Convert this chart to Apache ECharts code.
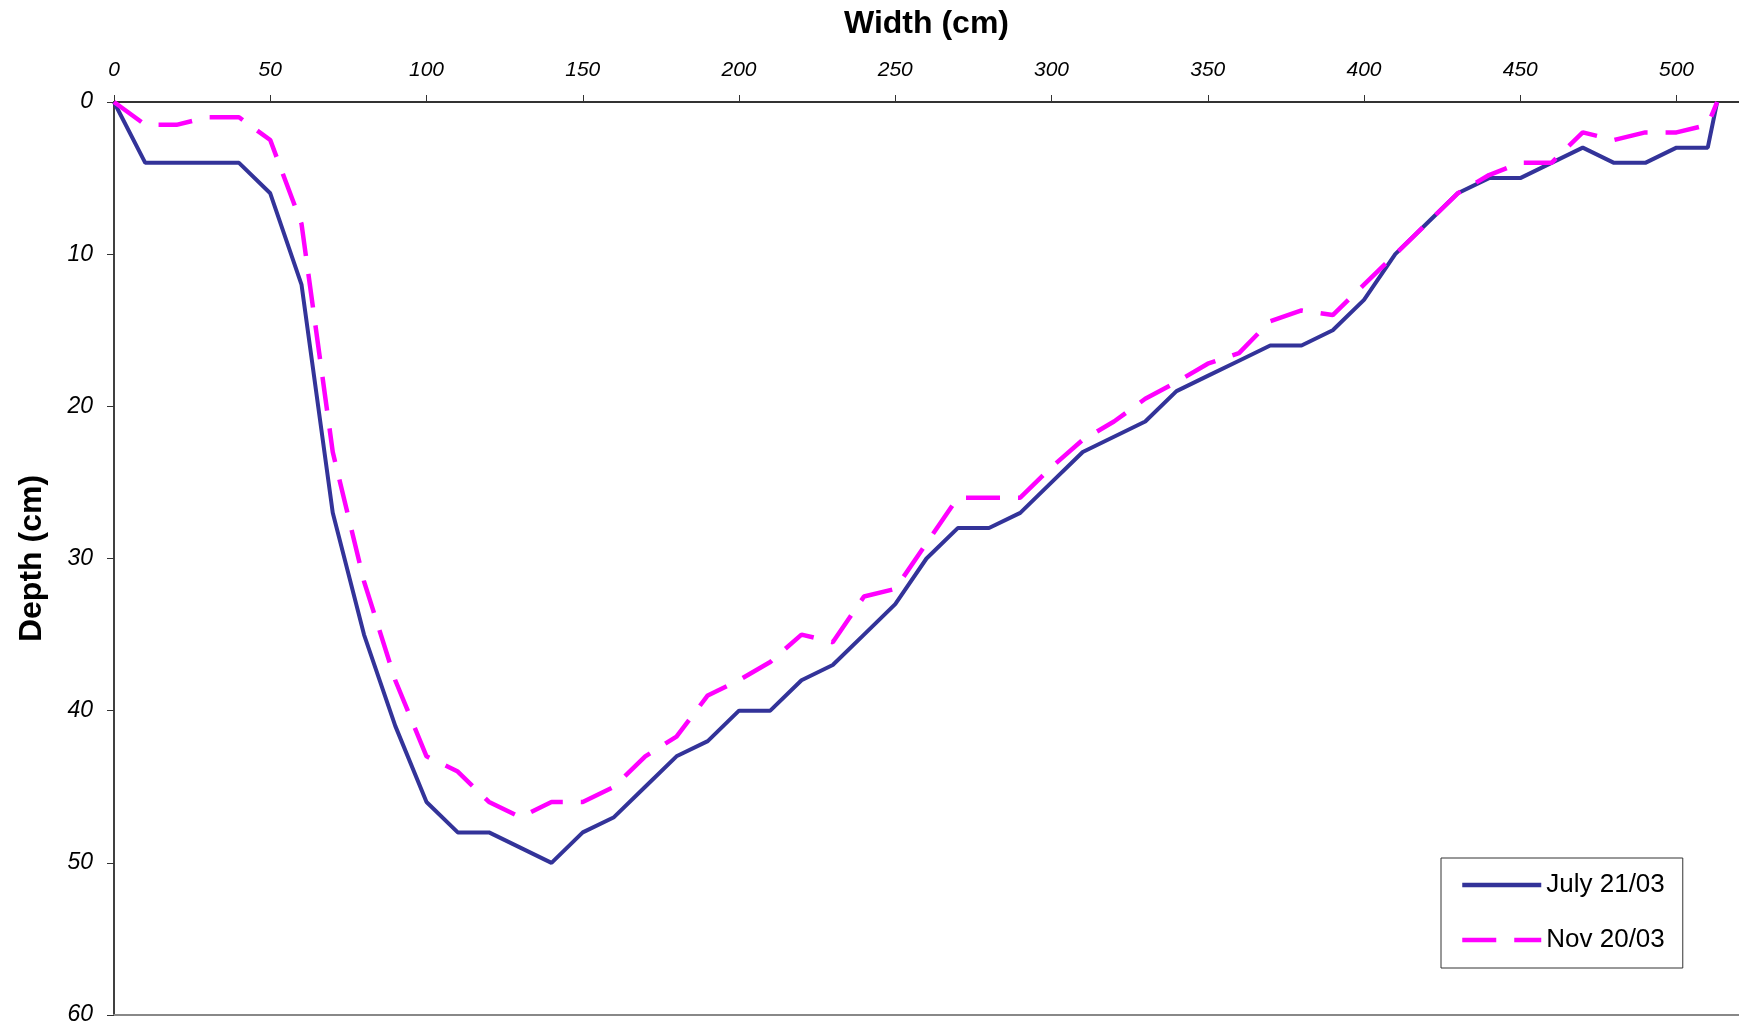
<!DOCTYPE html>
<html>
<head>
<meta charset="utf-8">
<title>Channel cross-section</title>
<script src="https://cdn.jsdelivr.net/npm/echarts@6/dist/echarts.min.js"></script>
<style>
  html, body { margin: 0; padding: 0; background: #ffffff; }
  #chart { width: 1739px; height: 1029px; }
</style>
</head>
<body>
<div id="chart"></div>
<script>
// Survey stations across the channel (cm from left bank)
const widths = [0, 10, 20, 30, 40, 50, 60, 70, 80, 90,
                100, 110, 120, 130, 140, 150, 160, 170, 180, 190,
                200, 210, 220, 230, 240, 250, 260, 270, 280, 290,
                300, 310, 320, 330, 340, 350, 360, 370, 380, 390,
                400, 410, 420, 430, 440, 450, 460, 470, 480, 490,
                500, 510, 513];

// Depth below the reference level (cm), July 21/03 survey
const julyDepth = [0, 4, 4, 4, 4, 6, 12, 27, 35, 41,
                   46, 48, 48, 49, 50, 48, 47, 45, 43, 42,
                   40, 40, 38, 37, 35, 33, 30, 28, 28, 27,
                   25, 23, 22, 21, 19, 18, 17, 16, 16, 15,
                   13, 10, 8, 6, 5, 5, 4, 3, 4, 4,
                   3, 3, 0];

// Depth below the reference level (cm), Nov 20/03 survey
const novDepth = [0, 1.5, 1.5, 1, 1, 2.5, 8, 23, 31.5, 38,
                  43, 44, 46, 47, 46, 46, 45, 43, 41.7, 39,
                  38, 36.8, 35, 35.5, 32.5, 32, 29, 26, 26, 26,
                  24, 22.2, 21, 19.5, 18.4, 17.2, 16.5, 14.4, 13.7, 14,
                  12, 10, 8, 6, 4.8, 4, 4, 2, 2.5, 2,
                  2, 1.5, 0];

const widthTicks = [0, 50, 100, 150, 200, 250, 300, 350, 400, 450, 500];
const depthTicks = [0, 10, 20, 30, 40, 50, 60];

const seriesNames = ['July 21/03', 'Nov 20/03'];

const toPairs = (xs, ys) => xs.map((x, i) => [x, ys[i]]);

const FONT = '"Liberation Sans", Arial, sans-serif';

const chart = echarts.init(document.getElementById('chart'), null, { renderer: 'canvas' });

chart.setOption({
  backgroundColor: '#ffffff',
  animation: false,
  textStyle: { fontFamily: FONT },
  grid: { left: 114, right: 0, top: 102, bottom: 14, containLabel: false },
  xAxis: [
    {
      type: 'value',
      position: 'top',
      min: 0,
      max: 520,
      name: 'Width (cm)',
      nameLocation: 'middle',
      nameGap: 62,
      nameTextStyle: { fontFamily: FONT, fontSize: 32, fontWeight: 'bold', color: '#000000' },
      axisLine: { show: true, lineStyle: { color: '#333333', width: 2 } },
      axisTick: { show: true, inside: false, length: 7, customValues: widthTicks,
                  lineStyle: { color: '#333333', width: 1 } },
      axisLabel: { customValues: widthTicks, margin: 21, fontFamily: FONT, fontSize: 21,
                   fontStyle: 'italic', color: '#000000' },
      splitLine: { show: false }
    },
    {
      type: 'value',
      position: 'bottom',
      min: 0,
      max: 520,
      axisLine: { show: true, onZero: false, lineStyle: { color: '#888888', width: 2 } },
      axisTick: { show: false },
      axisLabel: { show: false },
      splitLine: { show: false }
    }
  ],
  yAxis: {
    type: 'value',
    inverse: true,
    min: 0,
    max: 60,
    interval: 10,
    name: 'Depth (cm)',
    nameLocation: 'middle',
    nameRotate: 90,
    nameGap: 66,
    nameTextStyle: { fontFamily: FONT, fontSize: 32, fontWeight: 'bold', color: '#000000' },
    axisLine: { show: true, onZero: false, lineStyle: { color: '#000000', width: 1.5 } },
    axisTick: { show: true, inside: false, length: 7, lineStyle: { color: '#333333', width: 1 } },
    axisLabel: { margin: 21, fontFamily: FONT, fontSize: 23, fontStyle: 'italic', color: '#000000' },
    splitLine: { show: false }
  },
  legend: {
    left: 1441,
    top: 858,
    orient: 'vertical',
    data: seriesNames,
    backgroundColor: '#ffffff',
    borderColor: '#333333',
    borderWidth: 1,
    padding: [14, 18, 15, 19],
    itemWidth: 79,
    itemHeight: 14,
    itemGap: 29,
    itemStyle: { opacity: 0 },
    lineStyle: { width: 4.5 },
    textStyle: { fontFamily: FONT, fontSize: 26, color: '#000000', lineHeight: 26 },
    selectedMode: false
  },
  series: [
    {
      name: seriesNames[0],
      type: 'line',
      xAxisIndex: 0,
      data: toPairs(widths, julyDepth),
      symbol: 'none',
      smooth: false,
      lineStyle: { color: '#333399', width: 4, type: 'solid' },
      itemStyle: { color: '#333399' }
    },
    {
      name: seriesNames[1],
      type: 'line',
      xAxisIndex: 0,
      data: toPairs(widths, novDepth),
      symbol: 'none',
      smooth: false,
      lineStyle: { color: '#FF00FF', width: 4.5, type: [34, 18] },
      itemStyle: { color: '#FF00FF' }
    }
  ]
});
</script>
</body>
</html>
